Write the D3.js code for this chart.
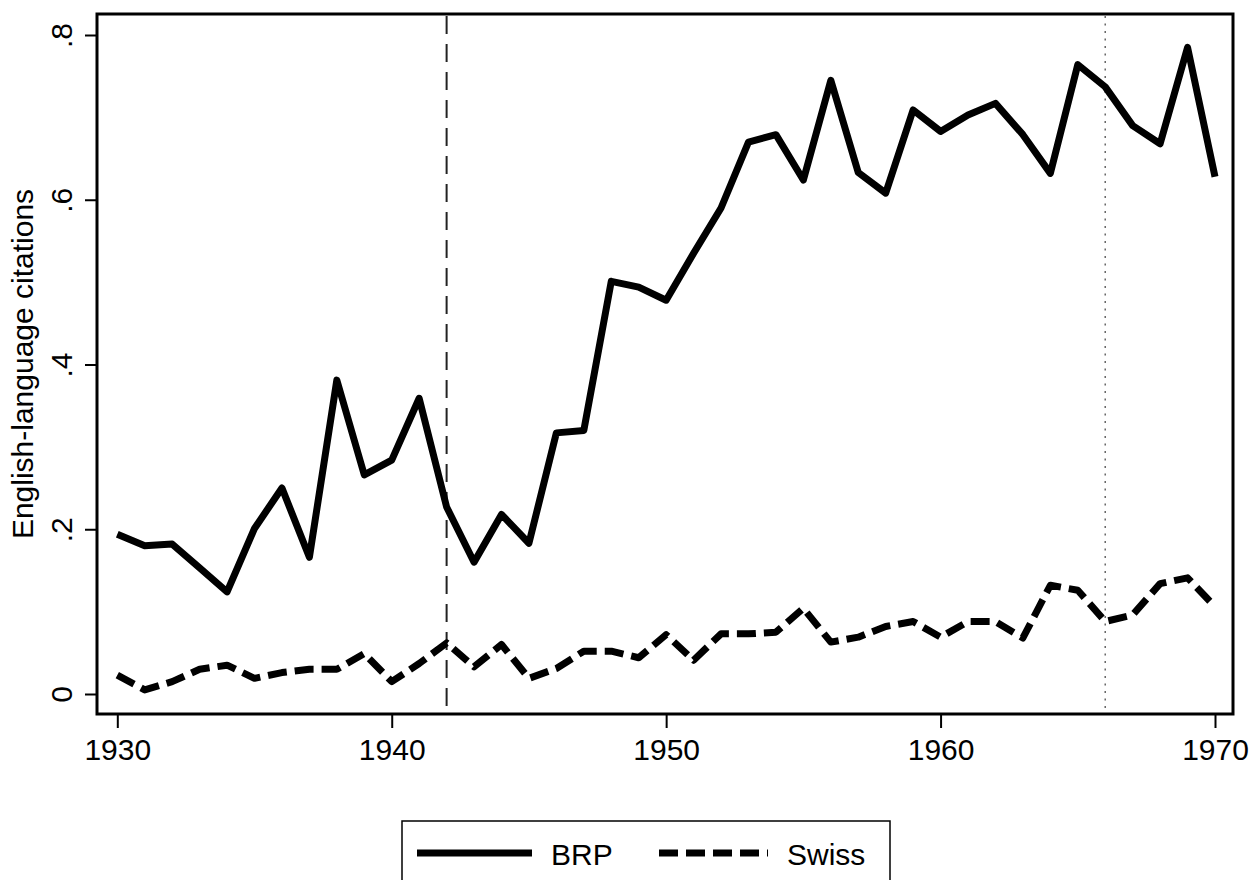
<!DOCTYPE html>
<html>
<head>
<meta charset="utf-8">
<script src="https://cdn.jsdelivr.net/npm/d3@7"></script>
<style>
  body { margin: 0; background: #fff; }
  svg { display: block; font-family: "Liberation Sans", Arial, Helvetica, sans-serif; }
</style>
</head>
<body>
<div id="grafico"></div>
<script>
// years 1930..1970
const anios = d3.range(1930, 1971);

const brp = [
  0.194, 0.180, 0.182, 0.153, 0.124, 0.201, 0.250, 0.166, 0.381, 0.266,
  0.284, 0.359, 0.227, 0.160, 0.218, 0.183, 0.317, 0.320, 0.501, 0.494,
  0.478, 0.535, 0.590, 0.670, 0.679, 0.624, 0.745, 0.633, 0.608, 0.709,
  0.683, 0.703, 0.717, 0.679, 0.632, 0.764, 0.737, 0.690, 0.668, 0.785,
  0.628
];

const swiss = [
  0.023, 0.005, 0.015, 0.030, 0.035, 0.019, 0.026, 0.030, 0.030, 0.049,
  0.015, 0.037, 0.062, 0.033, 0.060, 0.019, 0.031, 0.052, 0.052, 0.044,
  0.072, 0.041, 0.073, 0.073, 0.075, 0.104, 0.063, 0.069, 0.082, 0.088,
  0.069, 0.088, 0.088, 0.068, 0.132, 0.126, 0.088, 0.096, 0.134, 0.141,
  0.106
];

const xTicks = [1930, 1940, 1950, 1960, 1970];
const yTicks = [0, 0.2, 0.4, 0.6, 0.8];
const lineaGuerra = 1942;   // dashed reference
const lineaFinal = 1966;    // dotted reference
const series = [
  { nombre: "BRP", valores: brp, dash: null },
  { nombre: "Swiss", valores: swiss, dash: "19,8" }
];

const W = 1252, H = 880;
const frame = { left: 97, right: 1233, top: 14, bottom: 714 };

const svg = d3.select("#grafico")
  .append("svg")
  .attr("width", W)
  .attr("height", H);

const x = d3.scaleLinear().domain([1930, 1970]).range([117.3, 1215]);
const y = d3.scaleLinear().domain([0, 0.8]).range([694, 35]);

// frame
svg.append("rect")
  .attr("x", frame.left)
  .attr("y", frame.top)
  .attr("width", frame.right - frame.left)
  .attr("height", frame.bottom - frame.top)
  .attr("fill", "none")
  .attr("stroke", "#000")
  .attr("stroke-width", 3);

// y axis
const yAxis = svg.append("g")
  .attr("transform", `translate(${frame.left}, 0)`)
  .call(d3.axisLeft(y).tickValues(yTicks).tickSize(12)
    .tickFormat(d => d === 0 ? "0" : d3.format(".1f")(d).replace(/^0/, "")));
yAxis.select(".domain").remove();
yAxis.selectAll("line").attr("stroke-width", 2);
yAxis.selectAll("text")
  .attr("x", null).attr("dy", null)
  .attr("transform", "translate(-25, 0) rotate(-90)")
  .attr("text-anchor", "middle")
  .attr("font-size", "30px")
  .attr("fill", "#000");

// x axis
const xAxis = svg.append("g")
  .attr("transform", `translate(0, ${frame.bottom})`)
  .call(d3.axisBottom(x).tickValues(xTicks).tickSize(14).tickFormat(d3.format("d")));
xAxis.select(".domain").remove();
xAxis.selectAll("line").attr("stroke-width", 2);
xAxis.selectAll("text")
  .attr("y", 46).attr("dy", null)
  .attr("font-size", "30px")
  .attr("fill", "#000");

// y title
svg.append("text")
  .attr("transform", `translate(33, ${(frame.top + frame.bottom) / 2}) rotate(-90)`)
  .attr("text-anchor", "middle")
  .attr("font-size", "30px")
  .text("English-language citations");

// reference lines
svg.append("line")
  .attr("x1", x(lineaGuerra)).attr("x2", x(lineaGuerra))
  .attr("y1", frame.top + 2).attr("y2", frame.bottom - 1)
  .attr("stroke", "#222")
  .attr("stroke-width", 2)
  .attr("stroke-dasharray", "18,10");

svg.append("line")
  .attr("x1", x(lineaFinal)).attr("x2", x(lineaFinal))
  .attr("y1", frame.top + 2).attr("y2", frame.bottom - 1)
  .attr("stroke", "#666")
  .attr("stroke-width", 1.5)
  .attr("stroke-dasharray", "2,5.5");

// series
const linea = d3.line()
  .x((d, i) => x(anios[i]))
  .y(d => y(d));

svg.selectAll(".serie")
  .data(series)
  .enter()
  .append("path")
  .attr("class", "serie")
  .attr("d", d => linea(d.valores))
  .attr("fill", "none")
  .attr("stroke", "#000")
  .attr("stroke-width", 7)
  .attr("stroke-linejoin", "round")
  .attr("stroke-dasharray", d => d.dash);

// legend
const leyenda = svg.append("g");
leyenda.append("rect")
  .attr("x", 402).attr("y", 821)
  .attr("width", 488).attr("height", 80)
  .attr("fill", "#fff")
  .attr("stroke", "#000")
  .attr("stroke-width", 1.5);

const posLeyenda = [
  { x1: 417, x2: 532, tx: 551 },
  { x1: 659, x2: 768, tx: 787 }
];
series.forEach((s, i) => {
  const p = posLeyenda[i];
  leyenda.append("line")
    .attr("x1", p.x1).attr("x2", p.x2)
    .attr("y1", 853).attr("y2", 853)
    .attr("stroke", "#000")
    .attr("stroke-width", 7)
    .attr("stroke-dasharray", s.dash);
  leyenda.append("text")
    .attr("x", p.tx).attr("y", 865)
    .attr("font-size", "30px")
    .text(s.nombre);
});
</script>
</body>
</html>
